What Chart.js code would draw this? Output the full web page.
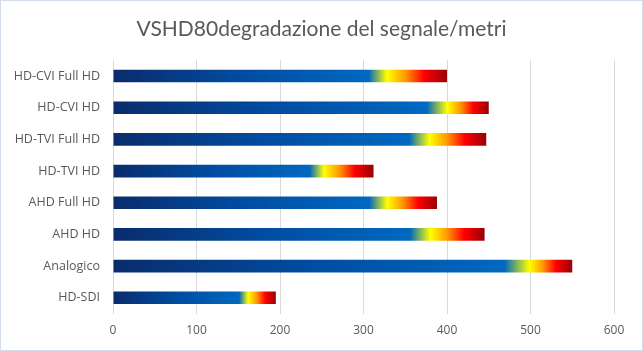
<!DOCTYPE html>
<html>
<head>
<meta charset="utf-8">
<script src="https://cdn.jsdelivr.net/npm/chart.js@4/dist/chart.umd.min.js"></script>
<style>
  html, body { margin: 0; padding: 0; background: #ffffff; }
  #wrap { width: 643px; height: 351px; position: relative; }
</style>
</head>
<body>
<div id="wrap"><canvas id="c" width="643" height="351"></canvas></div>
<script>
// ---- data ----
const categories = ["HD-CVI Full HD", "HD-CVI HD", "HD-TVI Full HD", "HD-TVI HD", "AHD Full HD", "AHD HD", "Analogico", "HD-SDI"];
const metri = [400, 450, 447, 312, 388, 445, 550, 195];
const xTicks = [0, 100, 200, 300, 400, 500, 600];
const titleText = "VSHD80degradazione del segnale/metri";

// ---- style: where the yellow band sits along each bar (fraction of the bar length) ----
const yellowAt = [0.82, 0.89, 0.848, 0.81, 0.846, 0.854, 0.907, 0.83];

function barGradient(ctx) {
  const chart = ctx.chart;
  const xs = chart.scales && chart.scales.x;
  if (!xs || ctx.type !== 'data') return '#0068c0';
  const i = ctx.dataIndex;
  const x0 = xs.getPixelForValue(0);
  const x1 = xs.getPixelForValue(metri[i]);
  if (!isFinite(x0) || !isFinite(x1) || x1 <= x0) return '#0068c0';
  const y = yellowAt[i];
  const g0 = y - 0.055;
  const red = y + 0.62 * (1 - y);
  const g = chart.ctx.createLinearGradient(x0, 0, x1, 0);
  g.addColorStop(0, '#0a2c6c');
  g.addColorStop(g0 * 0.5, '#004ca0');
  g.addColorStop(g0, '#0068c0');
  g.addColorStop(y, '#ffff00');
  g.addColorStop((y + red) / 2, '#ff9800');
  g.addColorStop(red, '#ff0000');
  g.addColorStop(1, '#980008');
  return g;
}

const framePlugin = {
  id: 'frame',
  beforeDraw(chart) {
    const c = chart.ctx;
    c.save();
    c.fillStyle = '#ffffff';
    c.fillRect(0, 0, chart.width, chart.height);
    c.restore();
  },
  afterDraw(chart) {
    const c = chart.ctx;
    c.save();
    c.strokeStyle = '#d3deea';
    c.lineWidth = 1;
    c.strokeRect(0.5, 0.5, chart.width - 1, chart.height - 1);
    c.restore();
  }
};

new Chart(document.getElementById('c'), {
  type: 'bar',
  data: {
    labels: categories,
    datasets: [{
      data: metri,
      backgroundColor: barGradient,
      borderWidth: 0,
      barPercentage: 0.8,
      categoryPercentage: 0.5,
      yAxisID: 'y'
    }]
  },
  options: {
    indexAxis: 'y',
    responsive: false,
    animation: false,
    devicePixelRatio: 1,
    layout: { padding: { left: 0, right: 0, top: 0, bottom: 3 } },
    plugins: {
      legend: { display: false },
      tooltip: { enabled: false },
      title: {
        display: true,
        text: titleText,
        color: '#595959',
        font: { family: 'Lato', size: 21, weight: 'normal' },
        padding: { top: 17, bottom: 18 }
      }
    },
    scales: {
      x: {
        min: 0,
        max: 600,
        afterBuildTicks(scale) { scale.ticks = xTicks.map(v => ({ value: v })); },
        grid: { color: '#d9d9d9', drawTicks: false, lineWidth: 1 },
        border: { display: false },
        ticks: {
          color: '#595959',
          font: { family: 'Open Sans', size: 12 },
          padding: 10
        }
      },
      y: {
        grid: { display: false, drawTicks: false },
        border: { display: false },
        afterFit(scale) { scale.width = 113; },
        ticks: {
          color: '#595959',
          font: { family: 'Open Sans', size: 12.5 },
          padding: 13
        }
      },
      yRight: {
        type: 'linear',
        position: 'right',
        display: true,
        grid: { display: false, drawTicks: false },
        border: { display: false },
        ticks: { display: false },
        afterFit(scale) { scale.width = 29; }
      }
    }
  },
  plugins: [framePlugin]
});
</script>
</body>
</html>
